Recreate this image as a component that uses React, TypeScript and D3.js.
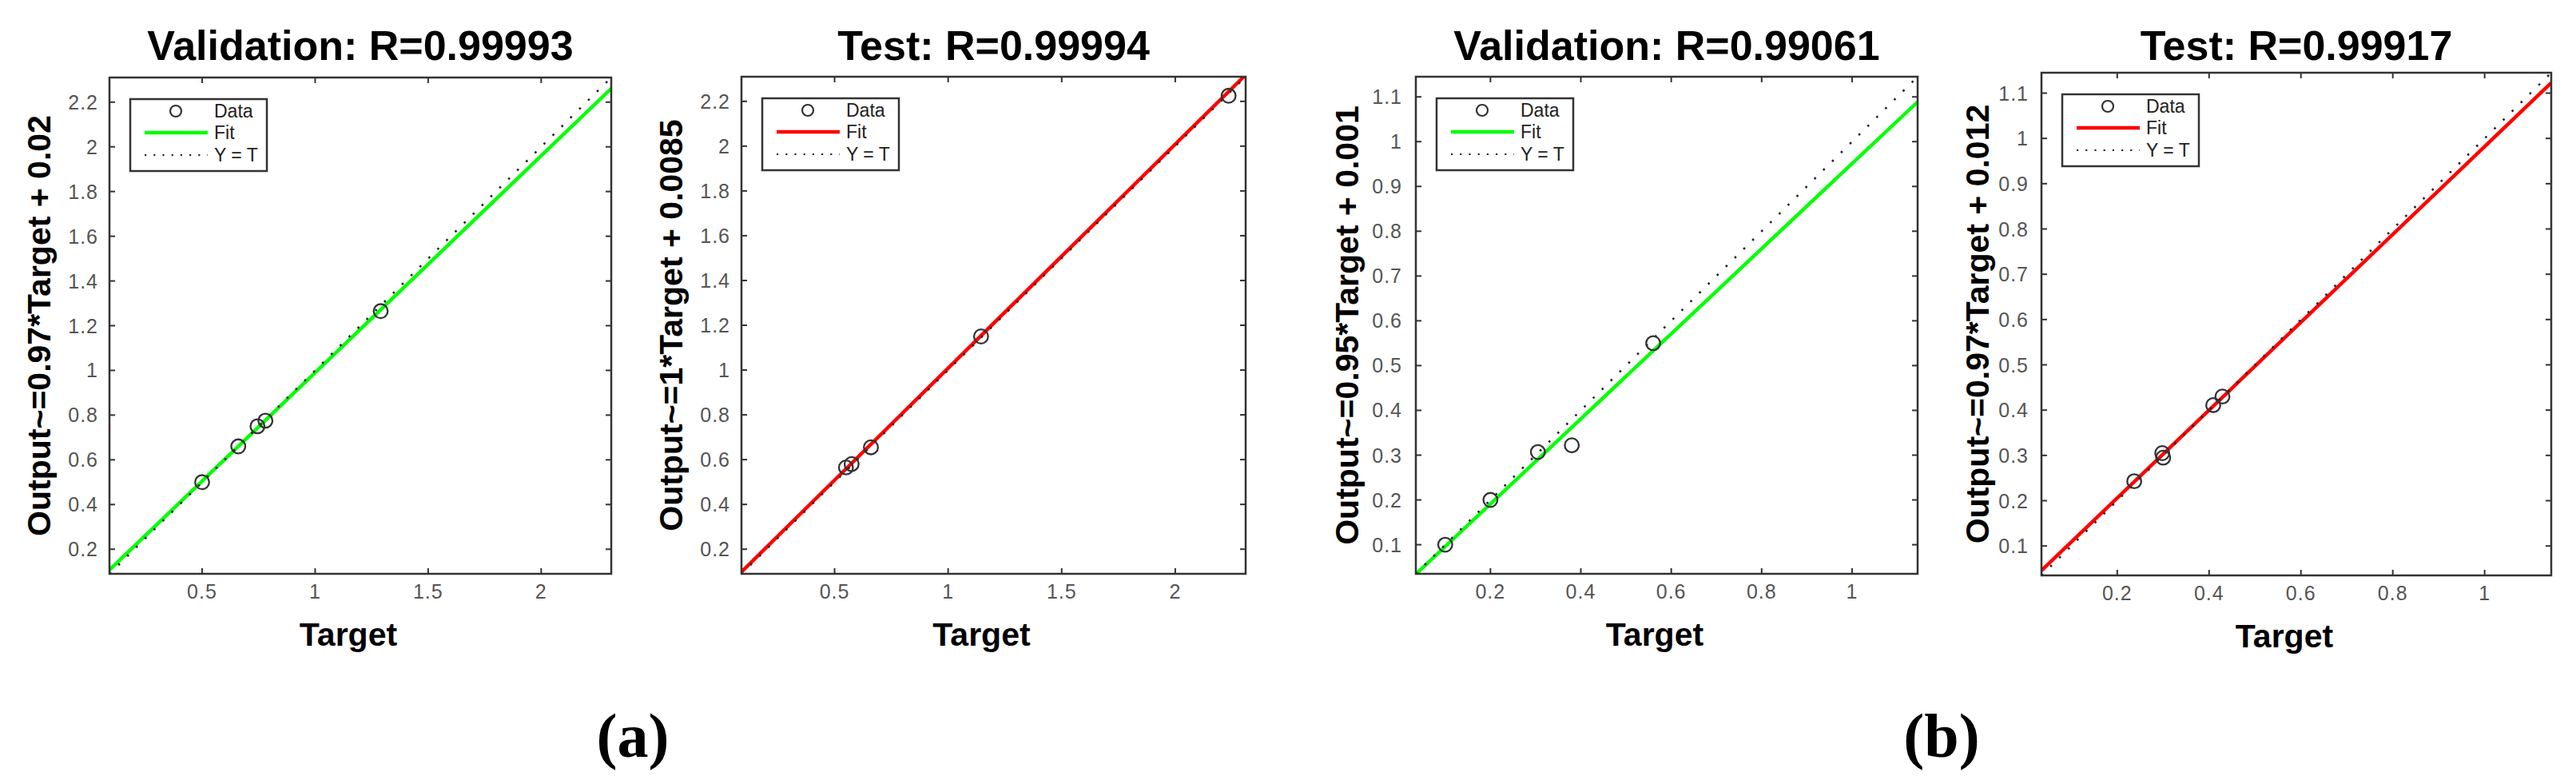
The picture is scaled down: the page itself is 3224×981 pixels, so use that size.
import React from 'react';
import * as d3 from 'd3';

// ---- data ----
const panelTitles = ['Validation: R=0.99993', 'Test: R=0.99994', 'Validation: R=0.99061', 'Test: R=0.99917'];
const yAxisLabels = [
  'Output~=0.97*Target + 0.02',
  'Output~=1*Target + 0.0085',
  'Output~=0.95*Target + 0.001',
  'Output~=0.97*Target + 0.012',
];
const fitSlopes = [0.97, 1, 0.95, 0.97];
const fitIntercepts = [0.02, 0.0085, 0.001, 0.012];
const fitColors = ['#00ff00', '#ff0000', '#00ff00', '#ff0000'];

const valATarget = [0.5, 0.66, 0.745, 0.78, 1.29];
const valAOutput = [0.5, 0.66, 0.75, 0.775, 1.265];
const testATarget = [0.55, 0.575, 0.66, 1.145, 2.235];
const testAOutput = [0.565, 0.58, 0.655, 1.15, 2.225];
const valBTarget = [0.1, 0.2, 0.305, 0.38, 0.56];
const valBOutput = [0.1, 0.2, 0.307, 0.322, 0.55];
const testBTarget = [0.237, 0.298, 0.3, 0.409, 0.429];
const testBOutput = [0.243, 0.305, 0.295, 0.411, 0.43];

const yTicksA = [0.2, 0.4, 0.6, 0.8, 1, 1.2, 1.4, 1.6, 1.8, 2, 2.2];
const xTicksA = [0.5, 1, 1.5, 2];
const yTicksB = [0.1, 0.2, 0.3, 0.4, 0.5, 0.6, 0.7, 0.8, 0.9, 1, 1.1];
const xTicksB = [0.2, 0.4, 0.6, 0.8, 1];
const limitsA = [0.09, 2.31];
const limitsB = [0.035, 1.145];

const legendLabels = ['Data', 'Fit', 'Y = T'];
const figureLabels = ['(a)', '(b)'];

const targets = [valATarget, testATarget, valBTarget, testBTarget];
const outputs = [valAOutput, testAOutput, valBOutput, testBOutput];

// ---- layout ----
const layouts = [
  { left: 137, right: 765, top: 97, bottom: 718, ylabX: 63, lim: limitsA, xt: xTicksA, yt: yTicksA, yGap: 14 },
  { left: 928, right: 1559, top: 96, bottom: 718, ylabX: 854, lim: limitsA, xt: xTicksA, yt: yTicksA, yGap: 14 },
  { left: 1772, right: 2400, top: 96, bottom: 718, ylabX: 1700, lim: limitsB, xt: xTicksB, yt: yTicksB, yGap: 17 },
  { left: 2555, right: 3193, top: 91, bottom: 720, ylabX: 2489, lim: limitsB, xt: xTicksB, yt: yTicksB, yGap: 16 },
];
const figLabelPos = [792, 2430];

const SANS = '"Liberation Sans", Arial, sans-serif';
const SERIF = '"Liberation Serif", "Times New Roman", serif';
const fmt = (v: number) => String(+v.toFixed(2));

function Panel({ i }: { i: number }) {
  const L = layouts[i];
  const x = d3.scaleLinear().domain(L.lim).range([L.left, L.right]);
  const y = d3.scaleLinear().domain(L.lim).range([L.bottom, L.top]);
  const cx = (L.left + L.right) / 2;
  const cy = (L.top + L.bottom) / 2;
  const tk = 7;
  const line = d3.line<[number, number]>().x((d) => x(d[0])).y((d) => y(d[1]));
  const fitPts: [number, number][] = L.lim.map((t) => [t, fitSlopes[i] * t + fitIntercepts[i]]);
  const idPts: [number, number][] = L.lim.map((t) => [t, t]);
  const clipId = `clip${i}`;
  const lg = { x: L.left + 26, y: L.top + 27, w: 171, h: 90 };
  const rows = [lg.y + 15, lg.y + 42, lg.y + 70];
  return (
    <g>
      <defs>
        <clipPath id={clipId}>
          <rect x={L.left} y={L.top} width={L.right - L.left} height={L.bottom - L.top} />
        </clipPath>
      </defs>
      <text x={cx} y={75} textAnchor="middle" fontFamily={SANS} fontWeight="bold" fontSize={52} fill="#000">
        {panelTitles[i]}
      </text>
      <rect x={L.left} y={L.top} width={L.right - L.left} height={L.bottom - L.top} fill="#fff" />
      <g clipPath={`url(#${clipId})`}>
        <path d={line(fitPts) || ''} stroke={fitColors[i]} strokeWidth={4.5} fill="none" />
        <path d={line(idPts) || ''} stroke="#222" strokeWidth={2.6} strokeDasharray="2.6 13" fill="none" />
        {targets[i].map((t, k) => (
          <circle key={k} cx={x(t)} cy={y(outputs[i][k])} r={8.8} fill="none" stroke="#333" strokeWidth={2.3} />
        ))}
      </g>
      {/* ticks */}
      {L.xt.map((v) => (
        <g key={'x' + v}>
          <line x1={x(v)} x2={x(v)} y1={L.bottom} y2={L.bottom - tk} stroke="#333" strokeWidth={2} />
          <line x1={x(v)} x2={x(v)} y1={L.top} y2={L.top + tk} stroke="#333" strokeWidth={2} />
          <text x={x(v)} y={L.bottom + 31} textAnchor="middle" fontFamily={SANS} fontSize={25} letterSpacing={1} fill="#555">
            {fmt(v)}
          </text>
        </g>
      ))}
      {L.yt.map((v) => (
        <g key={'y' + v}>
          <line x1={L.left} x2={L.left + tk} y1={y(v)} y2={y(v)} stroke="#333" strokeWidth={2} />
          <line x1={L.right} x2={L.right - tk} y1={y(v)} y2={y(v)} stroke="#333" strokeWidth={2} />
          <text x={L.left - L.yGap} y={y(v)} dy="0.36em" textAnchor="end" fontFamily={SANS} fontSize={25} letterSpacing={1} fill="#555">
            {fmt(v)}
          </text>
        </g>
      ))}
      <rect x={L.left} y={L.top} width={L.right - L.left} height={L.bottom - L.top} fill="none" stroke="#333" strokeWidth={2.5} />
      {/* legend */}
      <rect x={lg.x} y={lg.y} width={lg.w} height={lg.h} fill="#fff" stroke="#333" strokeWidth={2.5} />
      <circle cx={lg.x + 57} cy={rows[0]} r={7} fill="none" stroke="#333" strokeWidth={2.2} />
      <line x1={lg.x + 18} x2={lg.x + 97} y1={rows[1]} y2={rows[1]} stroke={fitColors[i]} strokeWidth={4.5} />
      <line x1={lg.x + 18} x2={lg.x + 97} y1={rows[2]} y2={rows[2]} stroke="#222" strokeWidth={2.2} strokeDasharray="2.2 9" />
      {legendLabels.map((s, k) => (
        <text key={s} x={lg.x + 105} y={rows[k]} dy="0.36em" fontFamily={SANS} fontSize={23} fill="#222">
          {s}
        </text>
      ))}
      {/* axis labels */}
      <text x={cx - 15} y={L.bottom + 90} textAnchor="middle" fontFamily={SANS} fontWeight="bold" fontSize={41} fill="#000">
        Target
      </text>
      <text
        transform={`translate(${L.ylabX},${cy}) rotate(-90)`}
        textAnchor="middle"
        fontFamily={SANS}
        fontWeight="bold"
        fontSize={41}
        fill="#000"
      >
        {yAxisLabels[i]}
      </text>
    </g>
  );
}

export default function App() {
  return (
    <svg
      width={3224}
      height={981}
      style={{ position: 'absolute', left: 0, top: 0, background: '#fff' }}
      xmlns="http://www.w3.org/2000/svg"
    >
      <rect x={0} y={0} width={3224} height={981} fill="#fff" />
      {[0, 1, 2, 3].map((i) => (
        <Panel key={i} i={i} />
      ))}
      {figureLabels.map((s, k) => (
        <text key={s} x={figLabelPos[k]} y={947} textAnchor="middle" fontFamily={SERIF} fontWeight="bold" fontSize={78} fill="#000">
          {s}
        </text>
      ))}
    </svg>
  );
}
